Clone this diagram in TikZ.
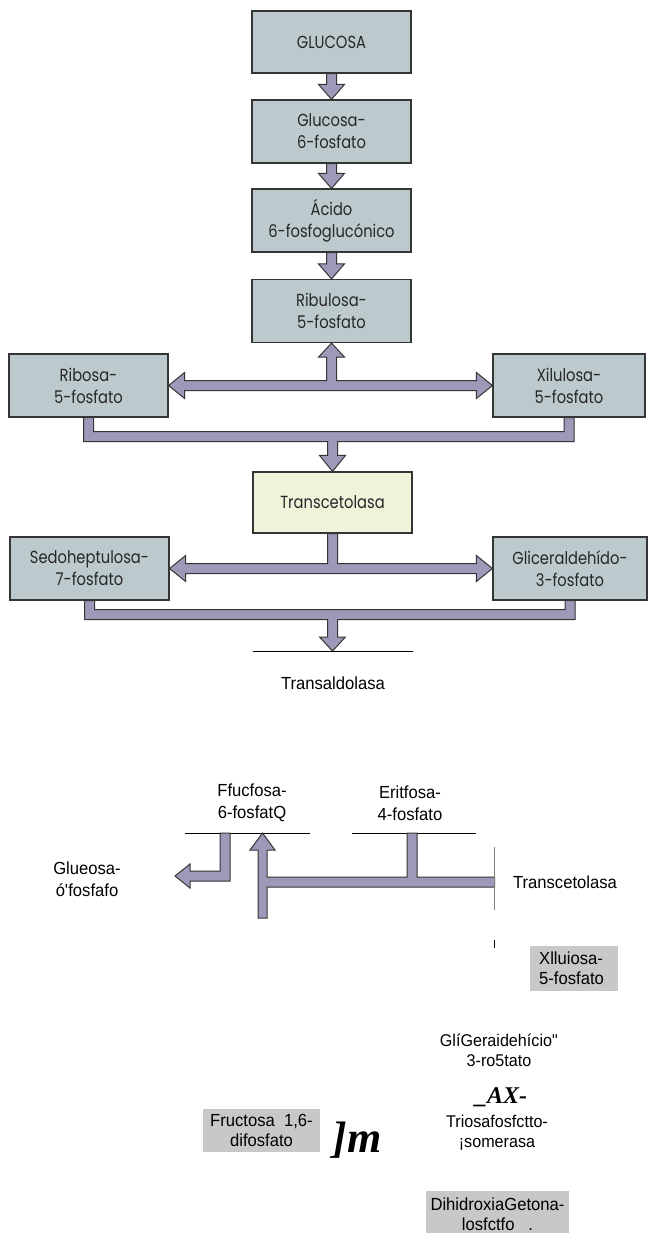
\documentclass[tikz,border=0pt]{standalone}
\usepackage{fontspec}
\setmainfont[FakeStretch=0.95]{Liberation Sans}
\newfontfamily\geofont[FakeStretch=0.84]{Poppins}
\newfontfamily\romfont{Liberation Serif}
\usetikzlibrary{calc}

\definecolor{boxfill}{HTML}{BCCACE}
\definecolor{enzfill}{HTML}{EEF3DA}
\definecolor{arrfill}{HTML}{9F98B8}
\definecolor{edgecol}{HTML}{353535}
\definecolor{labelgray}{HTML}{C8C8C8}

\tikzset{
  stage/.style={draw=edgecol, line width=1.2pt, fill=boxfill, align=center,
    inner sep=0pt, text=black!85, font=\geofont\fontsize{17.5}{22}\selectfont},
  enzyme/.style={stage, fill=enzfill},
  blk/.style={draw=edgecol, line width=1pt, fill=arrfill, line join=miter},
  plainlbl/.style={align=center, inner sep=0pt, font=\fontsize{17.5}{22}\selectfont},
  graylbl/.style={fill=labelgray, inner sep=0pt, font=\fontsize{17.5}{20}\selectfont},
  baseline rule/.style={line width=0.9pt, black},
}

% vertical block arrow from the bottom of one box to the top of the next
\newcommand\blkdown[2]{%
  \draw[blk] ($(#1)+(-5,0)$) -- ($(#2)+(-5,-15)$) -- ++(-8,0) -- (#2)
    -- ++(13,-15) -- ++(-8,0) -- ($(#1)+(5,0)$) -- cycle;}

\begin{document}
\begin{tikzpicture}[x=1pt,y=-1pt]
\fill[white] (0,0) rectangle (648,1233);
\useasboundingbox (0,0) rectangle (648,1233);

% ---- oxidative branch ----
\node[stage, minimum width=159, minimum height=62] (glc) at (331.5,42) {GLUCOSA};
\node[stage, minimum width=159, minimum height=63] (g6p) at (331.5,131.5) {Glucosa-\\6-fosfato};
\node[stage, minimum width=159, minimum height=63] (a6p) at (331.5,220.5) {Ácido\\6-fosfoglucónico};
\node[stage, minimum width=159, minimum height=63] (ru5) at (331.5,311) {Ribulosa-\\5-fosfato};

\blkdown{glc.south}{g6p.north}
\blkdown{g6p.south}{a6p.north}
\blkdown{a6p.south}{ru5.north}

% ---- pentoses ----
\node[stage, minimum width=159, minimum height=63] (r5p) at (88.5,385.5) {Ribosa-\\5-fosfato};
\node[stage, minimum width=152, minimum height=63] (x5p) at (569,385.5) {Xilulosa-\\5-fosfato};
\node[enzyme, minimum width=159, minimum height=61] (tk1) at (332.5,502.5) {Transcetolasa};

\coordinate (j1) at (ru5.south |- r5p.east);
\draw[blk] (r5p.east) -- ++(16,-13) -- ++(0,8) -- ($(j1)+(-5,-5)$)
  -- ($(ru5.south)+(-5,14)$) -- ++(-8,0) -- (ru5.south) -- ++(13,14) -- ++(-8,0)
  -- ($(j1)+(5,-5)$) -- ($(x5p.west)+(-16,-5)$) -- ++(0,-8) -- (x5p.west)
  -- ++(-16,13) -- ++(0,-8) -- ($(r5p.east)+(16,5)$) -- ++(0,8) -- cycle;

\coordinate (b1) at ($(r5p.south)+(0,19)$);
\draw[blk] ($(r5p.south)+(-5,0)$) -- ($(b1)+(-5,5)$) -- ($(tk1.north |- b1)+(-5,5)$)
  -- ($(tk1.north)+(-5,-16)$) -- ++(-8,0) -- (tk1.north) -- ++(13,-16) -- ++(-8,0)
  -- ($(tk1.north |- b1)+(5,5)$) -- ($(x5p.south |- b1)+(5,5)$) -- ($(x5p.south)+(5,0)$)
  -- ($(x5p.south)+(-5,0)$) -- ($(x5p.south |- b1)+(-5,-5)$) -- ($(b1)+(5,-5)$)
  -- ($(r5p.south)+(5,0)$) -- cycle;

% ---- first transketolase products ----
\node[stage, minimum width=159, minimum height=63] (s7p) at (89.5,568.5) {Sedoheptulosa-\\7-fosfato};
\node[stage, minimum width=154, minimum height=63] (g3p) at (570,568.5) {Gliceraldehído-\\3-fosfato};

\coordinate (j2) at (tk1.south |- s7p.east);
\draw[blk] ($(tk1.south)+(-5,0)$) -- ($(j2)+(-5,-5)$) -- ($(s7p.east)+(16,-5)$) -- ++(0,-8)
  -- (s7p.east) -- ++(16,13) -- ++(0,-8) -- ($(g3p.west)+(-16,5)$) -- ++(0,8)
  -- (g3p.west) -- ++(-16,-13) -- ++(0,8) -- ($(j2)+(5,-5)$) -- ($(tk1.south)+(5,0)$) -- cycle;

\coordinate (tal) at (332.5,651);
\coordinate (b2) at ($(s7p.south)+(0,14)$);
\draw[blk] ($(s7p.south)+(-5,0)$) -- ($(b2)+(-5,5)$) -- ($(tal |- b2)+(-5,5)$)
  -- ($(tal)+(-5,-14)$) -- ++(-8,0) -- (tal) -- ++(13,-14) -- ++(-8,0)
  -- ($(tal |- b2)+(5,5)$) -- ($(g3p.south |- b2)+(5,5)$) -- ($(g3p.south)+(5,0)$)
  -- ($(g3p.south)+(-5,0)$) -- ($(g3p.south |- b2)+(-5,-5)$) -- ($(b2)+(5,-5)$)
  -- ($(s7p.south)+(5,0)$) -- cycle;

\draw[baseline rule] ($(tal)+(-80,0)$) -- ($(tal)+(80,0)$);
\node[plainlbl] (tald) at (333,683) {Transaldolasa};

% ---- transaldolase / second transketolase ----
\node[plainlbl] (f6p) at (252,803) {Ffucfosa-\\6-fosfatQ};
\node[plainlbl] (e4p) at (410,803) {Eritfosa-\\4-fosfato};
\coordinate (u1) at (247.5,833);
\coordinate (u2) at (414,833);
\draw[baseline rule] ($(u1)+(-62.5,0)$) -- ($(u1)+(62.5,0)$);
\draw[baseline rule] ($(u2)+(-62,0)$) -- ($(u2)+(62,0)$);

\node[plainlbl] (g6pb) at (87,879) {Glueosa-\\ó\textquotesingle fosfafo};
\node[plainlbl] (tk2) at (565,882) {Transcetolasa};

\draw[blk] ($(u1)+(-27.5,0)$) -- ++(0,38) -- ++(-30,0) -- ++(0,-7) -- ++(-15,12)
  -- ++(15,12) -- ++(0,-7) -- ++(40,0) -- ++(0,-48) -- cycle;

\coordinate (edgetop) at (494.5,847);
\coordinate (edgebot) at (494.5,910);
\coordinate (upb) at (262.5,918);
\draw[blk] ($(upb)+(-4.5,0)$) -- ++(0,-68) -- ++(-8,0) -- ++(12.5,-17) -- ++(12.5,17)
  -- ++(-8,0) -- ++(0,27) -- ($(u2)+(-7,44)$) -- ++(0,-44) -- ++(10,0) -- ++(0,44)
  -- ($(edgetop)+(0,30)$) -- ++(0,10) -- ($(upb)+(4.5,-31)$) -- ($(upb)+(4.5,0)$) -- cycle;

\draw[gray, line width=1.3pt] (edgetop) -- (edgebot);
\coordinate (ticktop) at (494.5,940);
\coordinate (tickbot) at (494.5,948);
\draw[black, line width=1pt] (ticktop) -- (tickbot);

% ---- triose phosphates ----
\node[graylbl, anchor=north west, minimum height=45, inner xsep=9pt, text width=70pt, align=left]
  (x5pb) at (530,946) {Xlluiosa-\\5-fosfato};
\node[plainlbl, font=\fontsize{17}{20}\selectfont] (gadp) at (499,1050) {GlíGeraidehício\textquotedbl\\3-ro5tato};
\node[inner sep=0pt, font=\romfont\fontsize{24}{24}\selectfont\bfseries\itshape] (ax) at (501,1097) {\_AX-};
\node[plainlbl, font=\fontsize{17}{20}\selectfont] (tim) at (497,1133) {Triosafosfctto-\\¡somerasa};
\node[graylbl, minimum width=117, minimum height=43, align=center] (fbp) at (261.5,1130.5) {Fructosa\ \ 1,6-\\difosfato};
\node[inner sep=0pt, font=\romfont\fontsize{44}{44}\selectfont\bfseries\itshape] (jm) at (357,1140) {]m};
\node[graylbl, anchor=north, minimum width=143, minimum height=46, align=center]
  (dhap) at (497.5,1191) {DihidroxiaGetona-\\losfctfo\ \ \ .};
\end{tikzpicture}
\end{document}
